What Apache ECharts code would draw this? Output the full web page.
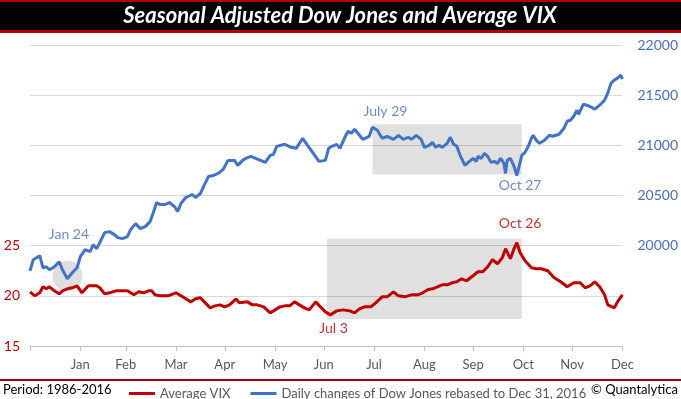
<!DOCTYPE html>
<html>
<head>
<meta charset="utf-8">
<script src="https://cdn.jsdelivr.net/npm/echarts@6/dist/echarts.min.js"></script>
<style>
  html, body { margin: 0; padding: 0; background: #fff; }
  #chart { width: 681px; height: 399px; }
</style>
</head>
<body>
<div id="chart"></div>
<script>
// day of year (Jan 1 = 0) at each month start, last one is Dec 31
const monthStarts = [0, 31, 59, 90, 120, 151, 181, 212, 243, 273, 304, 334, 365]
const monthLabels = ["Jan", "Feb", "Mar", "Apr", "May", "Jun", "Jul", "Aug", "Sep", "Oct", "Nov", "Dec"]

// Dow Jones, seasonal path rebased to Dec 31, 2016
const dowDay = [0, 2, 6, 8, 10, 12, 15, 18, 20, 23, 26, 29, 31, 34, 37, 39, 41, 43, 46, 49,
  52, 54, 57, 60, 62, 65, 68, 71, 74, 76, 78, 80, 83, 86, 89, 91, 93, 96, 100, 102,
  105, 107, 110, 113, 116, 119, 122, 126, 128, 131, 133, 136, 139, 142, 145, 148, 150, 152, 157, 161,
  164, 168, 171, 175, 178, 182, 184, 186, 189, 191, 194, 196, 198, 200, 203, 205, 209, 211, 214, 217,
  220, 224, 227, 230, 233, 235, 238, 241, 243, 246, 248, 250, 252, 254, 257, 259, 261, 263, 265, 268,
  270, 273, 275, 276, 278, 280, 282, 284, 286, 288, 290, 292, 293, 294, 296, 298, 300, 301, 303, 305,
  307, 309, 310, 312, 314, 317, 320, 322, 326, 329, 331, 333, 335, 337, 338, 341, 343, 346, 348, 351,
  354, 356, 358, 360, 362, 364, 365]
const dowValue = [19750, 19860, 19900, 19780, 19790, 19760, 19790, 19840, 19760, 19670, 19730, 19780, 19890, 19960, 19940, 20010, 19970, 20030, 20130, 20140,
  20110, 20080, 20070, 20090, 20160, 20220, 20170, 20190, 20240, 20330, 20430, 20410, 20410, 20430, 20390, 20340, 20420, 20480, 20510, 20480,
  20520, 20590, 20690, 20700, 20720, 20760, 20850, 20850, 20800, 20850, 20870, 20890, 20870, 20850, 20830, 20900, 20910, 20990, 21010, 20980,
  20970, 21070, 21000, 20910, 20840, 20850, 20970, 20990, 21010, 20970, 21080, 21140, 21120, 21160, 21100, 21060, 21090, 21180, 21150, 21070,
  21090, 21060, 21100, 21060, 21080, 21060, 21100, 21060, 20980, 21000, 21030, 20980, 21000, 20980, 21020, 21080, 21010, 20990, 20900, 20800,
  20830, 20870, 20840, 20890, 20870, 20920, 20890, 20830, 20840, 20820, 20870, 20820, 20720, 20850, 20870, 20800, 20700, 20700, 20900, 20930,
  20990, 21070, 21100, 21050, 21020, 21050, 21100, 21090, 21110, 21170, 21240, 21250, 21290, 21350, 21310, 21410, 21400, 21380, 21360, 21400,
  21450, 21520, 21620, 21650, 21670, 21700, 21660]

// average VIX
const vixDay = [0, 3, 6, 8, 10, 12, 15, 18, 20, 23, 26, 29, 32, 36, 41, 43, 46, 49, 53, 56,
  60, 64, 67, 70, 73, 75, 77, 80, 85, 90, 93, 96, 99, 102, 105, 108, 111, 114, 117, 120,
  123, 127, 129, 134, 137, 140, 144, 148, 151, 154, 157, 160, 163, 166, 169, 172, 176, 179, 182, 185,
  189, 193, 197, 200, 203, 206, 210, 213, 217, 220, 224, 227, 231, 235, 239, 242, 245, 248, 251, 254,
  257, 260, 263, 266, 269, 273, 276, 279, 282, 285, 288, 291, 293, 296, 298, 300, 302, 305, 309, 312,
  315, 319, 323, 327, 331, 335, 339, 342, 345, 348, 351, 354, 356, 360, 362, 365]
const vixValue = [20.4, 20.0, 20.3, 20.9, 20.7, 20.9, 20.5, 20.2, 20.5, 20.7, 20.8, 21.0, 20.3, 21.0, 21.0, 20.8, 20.2, 20.3, 20.5, 20.5,
  20.5, 20.1, 20.4, 20.3, 20.5, 20.5, 20.1, 20.0, 20.0, 20.3, 20.0, 19.7, 19.4, 19.7, 19.8, 19.3, 18.8, 19.0, 19.1, 18.9,
  19.1, 19.7, 19.3, 19.4, 19.1, 19.1, 18.9, 18.3, 18.6, 18.9, 19.0, 19.0, 19.4, 19.1, 18.8, 18.6, 19.4, 18.9, 18.4, 18.1,
  18.5, 18.6, 18.5, 18.3, 18.7, 18.9, 18.9, 19.3, 19.9, 19.9, 20.4, 20.0, 19.9, 20.1, 20.1, 20.3, 20.6, 20.7, 20.9, 21.1,
  21.1, 21.3, 21.4, 21.7, 21.5, 22.0, 22.4, 22.4, 22.9, 23.6, 23.2, 23.8, 24.7, 23.7, 24.6, 25.3, 24.3, 23.5, 22.8, 22.7,
  22.7, 22.5, 21.8, 21.4, 20.9, 21.3, 21.3, 20.8, 21.0, 21.4, 20.9, 20.1, 19.1, 18.8, 19.4, 20.1]

// highlighted periods: [startDay, endDay, low, high]
const dowBox = [211, 303, 20710, 21210]
const vixBox = [183, 303, 17.7, 25.7]
// circled low: [day, value, radius in index points]
const dowCircle = [23, 19700, 150]

// annotations: [day, value, text]
const dowNotes = [[24, 20110, "Jan 24"], [219, 21340, "July 29"], [302, 20600, "Oct 27"]]
const vixNotes = [[302, 27.2, "Oct 26"], [187, 16.7, "Jul 3"]]

const blue = "#4472c4"
const red = "#c00000"
const font = "Lato"

const zip = (xs, ys) => xs.map((x, i) => [x, ys[i]])

const chart = echarts.init(document.getElementById("chart"), null, {renderer: "canvas"})

function renderCircle(params, api) {
  const c = api.coord([api.value(0), api.value(1)])
  const top = api.coord([api.value(0), api.value(1) + api.value(2)])
  const r = c[1] - top[1]
  return {
    type: "circle",
    shape: {cx: c[0], cy: c[1], r: r},
    style: {fill: "rgba(0,0,0,0.13)"},
  }
}

const option = {
  animation: false,
  textStyle: {fontFamily: font},
  grid: {left: 30, right: 55, top: 45, bottom: 53},
  xAxis: {
    type: "value",
    min: 0,
    max: 365,
    splitLine: {show: false},
    axisLine: {lineStyle: {color: "#bfbfbf"}},
    axisTick: {customValues: monthStarts, length: 5, lineStyle: {color: "#bfbfbf"}},
    axisLabel: {
      customValues: monthStarts.slice(1),
      formatter: v => monthLabels[monthStarts.indexOf(v) - 1] || "",
      color: "#595959",
      fontSize: 13,
      margin: 12,
    },
  },
  yAxis: [
    {
      type: "value",
      min: 15,
      max: 45,
      interval: 5,
      axisLine: {show: false},
      axisTick: {show: false},
      axisLabel: {
        formatter: v => (v <= 25 ? String(v) : ""),
        color: red,
        fontSize: 14,
        margin: 10,
      },
      splitLine: {lineStyle: {color: "#d9d9d9"}},
    },
    {
      type: "value",
      min: 19000,
      max: 22000,
      interval: 500,
      position: "right",
      axisLine: {show: false},
      axisTick: {show: false},
      axisLabel: {
        formatter: v => (v >= 20000 ? String(v) : ""),
        color: "#4a6fb5",
        fontSize: 14,
        margin: 15,
      },
      splitLine: {show: false},
    },
  ],
  legend: {
    left: 124,
    top: 382,
    icon: "rect",
    itemWidth: 26,
    itemHeight: 3,
    itemGap: 20,
    textStyle: {color: "#595959", fontSize: 13, fontFamily: font},
    data: ["Average VIX", "Daily changes of Dow Jones rebased to Dec 31, 2016"],
  },
  series: [
    {
      type: "custom",
      yAxisIndex: 1,
      z: 1,
      silent: true,
      renderItem: renderCircle,
      data: [dowCircle],
    },
    {
      name: "Average VIX",
      type: "line",
      yAxisIndex: 0,
      data: zip(vixDay, vixValue),
      showSymbol: false,
      color: red,
      lineStyle: {width: 3, color: red},
      markArea: {
        silent: true,
        itemStyle: {color: "rgba(0,0,0,0.12)"},
        data: [[{xAxis: vixBox[0], yAxis: vixBox[2]}, {xAxis: vixBox[1], yAxis: vixBox[3]}]],
      },
    },
    {
      name: "Daily changes of Dow Jones rebased to Dec 31, 2016",
      type: "line",
      yAxisIndex: 1,
      data: zip(dowDay, dowValue),
      showSymbol: false,
      color: blue,
      lineStyle: {width: 3, color: blue},
      markArea: {
        silent: true,
        itemStyle: {color: "rgba(0,0,0,0.12)"},
        data: [[{xAxis: dowBox[0], yAxis: dowBox[2]}, {xAxis: dowBox[1], yAxis: dowBox[3]}]],
      },
    },
    {
      type: "scatter",
      yAxisIndex: 1,
      silent: true,
      symbolSize: 0,
      label: {
        show: true,
        position: "inside",
        formatter: p => p.data[2],
        color: "#4a6fb5",
        fontSize: 14,
      },
      data: dowNotes,
    },
    {
      type: "scatter",
      yAxisIndex: 0,
      silent: true,
      symbolSize: 0,
      label: {
        show: true,
        position: "inside",
        formatter: p => p.data[2],
        color: "#b00000",
        fontSize: 14,
      },
      data: vixNotes,
    },
  ],
  graphic: [
    {type: "rect", shape: {x: 0, y: 0, width: 681, height: 33}, style: {fill: "#000"}},
    {type: "rect", shape: {x: 0, y: 0, width: 681, height: 2}, style: {fill: "#b00000"}},
    {type: "rect", shape: {x: 0, y: 30, width: 681, height: 3}, style: {fill: "#b00000"}},
    {
      type: "text",
      x: 340,
      y: 16,
      style: {
        text: "Seasonal Adjusted Dow Jones and Average VIX",
        fill: "#fff",
        font: "italic bold 22px Lato",
        textAlign: "center",
        textVerticalAlign: "middle",
      },
    },
    {type: "rect", shape: {x: 0, y: 379, width: 681, height: 2}, style: {fill: "#a00000"}},
    {
      type: "text",
      left: 3,
      top: 383,
      style: {text: "Period: 1986-2016", fill: "#000", font: "13px Lato"},
    },
    {
      type: "text",
      right: 3,
      top: 383,
      style: {text: "© Quantalytica", fill: "#000", font: "13px Lato"},
    },
  ],
}

chart.setOption(option)
</script>
</body>
</html>
